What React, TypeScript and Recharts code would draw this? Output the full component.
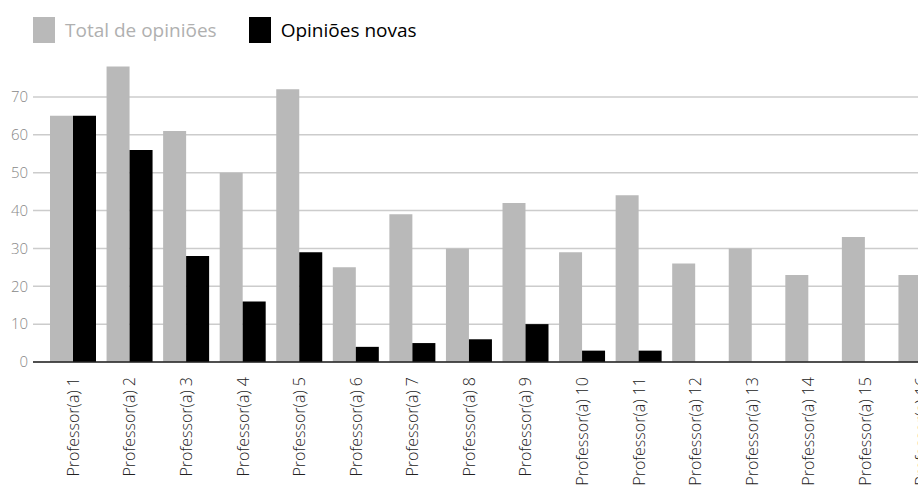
import React from "react";
import { BarChart, Bar, XAxis, YAxis, CartesianGrid } from "recharts";

const professores = [
  "Professor(a) 1", "Professor(a) 2", "Professor(a) 3", "Professor(a) 4",
  "Professor(a) 5", "Professor(a) 6", "Professor(a) 7", "Professor(a) 8",
  "Professor(a) 9", "Professor(a) 10", "Professor(a) 11", "Professor(a) 12",
  "Professor(a) 13", "Professor(a) 14", "Professor(a) 15", "Professor(a) 16",
];
const totalOpinioes = [65, 78, 61, 50, 72, 25, 39, 30, 42, 29, 44, 26, 30, 23, 33, 23];
const opinioesNovas = [65, 56, 28, 16, 29, 4, 5, 6, 10, 3, 3, 0, 0, 0, 0, 0];
const yTicks = [0, 10, 20, 30, 40, 50, 60, 70];

const GRAY = "#b9b9b9";
const FONT = "'Open Sans', Lato, sans-serif";

const data = professores.map((nome, i) => ({
  nome,
  total: totalOpinioes[i],
  novas: opinioesNovas[i],
}));

// Category labels rotated to read bottom-to-top, hanging just under the axis
const ProfTick = (props: any) => {
  const { x, payload } = props;
  return (
    <text
      transform={`translate(${x},377) rotate(-90)`}
      textAnchor="end"
      dy="0.35em"
      fontFamily={FONT}
      fontSize={16}
      fontWeight={300}
      fill="#222"
    >
      {payload.value}
    </text>
  );
};

const LegendItem = ({ color, label, textColor, weight }: any) => (
  <div style={{ display: "flex", alignItems: "center", marginRight: 32 }}>
    <div style={{ width: 22, height: 26, background: color, marginRight: 10 }} />
    <span style={{ color: textColor, fontSize: 19, fontWeight: weight, fontFamily: FONT }}>{label}</span>
  </div>
);

export default function App() {
  return (
    <div
      style={{
        position: "fixed",
        left: 0,
        top: 0,
        width: 918,
        height: 493,
        overflow: "hidden",
        background: "#fff",
      }}
    >
      <div style={{ position: "absolute", left: 33, top: 17, display: "flex" }}>
        <LegendItem color={GRAY} label="Total de opiniões" textColor="#b0b0b0" weight={400} />
        <LegendItem color="#000" label="Opiniões novas" textColor="#000" weight={500} />
      </div>
      <BarChart
        width={950}
        height={493}
        data={data}
        margin={{ top: 59, right: 0, bottom: 0, left: 0 }}
        barCategoryGap={5}
        barGap={0}
      >
        <CartesianGrid vertical={false} horizontalValues={yTicks} stroke="#cccccc" strokeWidth={1.5} />
        <XAxis
          dataKey="nome"
          interval={0}
          height={131}
          tick={<ProfTick />}
          tickLine={false}
          axisLine={{ stroke: "#222", strokeWidth: 1.5 }}
          padding={{ left: 12, right: 0 }}
        />
        <YAxis
          width={33}
          domain={[0, 80]}
          ticks={yTicks}
          tickLine={false}
          axisLine={false}
          tickSize={3}
          tick={{ fill: "#888", fontSize: 15, fontWeight: 300, fontFamily: FONT }}
        />
        <Bar dataKey="total" fill={GRAY} isAnimationActive={false} />
        <Bar dataKey="novas" fill="#000" isAnimationActive={false} />
      </BarChart>
    </div>
  );
}
